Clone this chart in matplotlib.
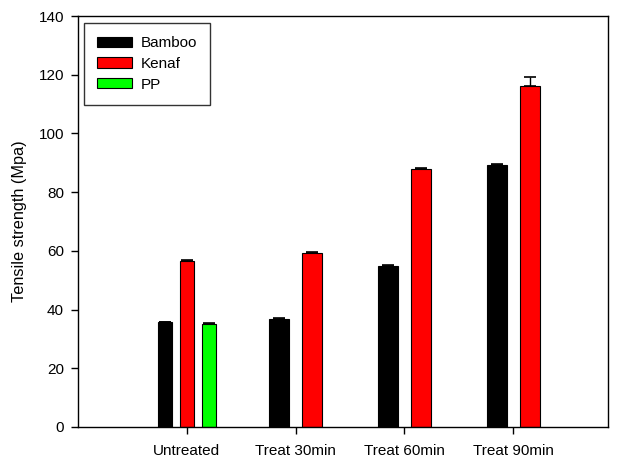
import matplotlib
matplotlib.use("Agg")
import matplotlib.pyplot as plt
import numpy as np

plt.rcParams['font.family'] = ['Liberation Sans', 'DejaVu Sans']

categories = ["Untreated", "Treat 30min", "Treat 60min", "Treat 90min"]
bamboo = [35.6, 36.8, 54.8, 89.3]
bamboo_err = [0.3, 0.3, 0.3, 0.4]
kenaf = [56.6, 59.4, 87.8, 116.2]
kenaf_err = [0.3, 0.3, 0.3, 2.9]
pp = [35.2]
pp_err = [0.3]
yticks = [0, 20, 40, 60, 80, 100, 120, 140]

fig = plt.figure(figsize=(6.17, 4.58), dpi=100)
ax = fig.add_axes([78/617, 1-427/458, (608-78)/617, (427-16)/458])

x = np.arange(1, len(categories) + 1)
err_kw = dict(capsize=4, ecolor='black', elinewidth=1, capthick=1.2)

# Untreated group: three bars
w1 = 0.13
ax.bar(x[0] - 0.2, bamboo[0], w1, yerr=[[0], [bamboo_err[0]]], color='black',
       edgecolor='black', linewidth=0.8, error_kw=err_kw, label='Bamboo')
ax.bar(x[0], kenaf[0], w1, yerr=[[0], [kenaf_err[0]]], color='#ff0000',
       edgecolor='black', linewidth=0.8, error_kw=err_kw, label='Kenaf')
ax.bar(x[0] + 0.2, pp[0], w1, yerr=[[0], [pp_err[0]]], color='#00ff00',
       edgecolor='black', linewidth=0.8, error_kw=err_kw, label='PP')

# Treated groups: two bars
w2 = 0.185
n = len(categories) - 1
ax.bar(x[1:] - 0.15, bamboo[1:], w2, yerr=[[0]*n, bamboo_err[1:]], color='black',
       edgecolor='black', linewidth=0.8, error_kw=err_kw)
ax.bar(x[1:] + 0.15, kenaf[1:], w2, yerr=[[0]*n, kenaf_err[1:]], color='#ff0000',
       edgecolor='black', linewidth=0.8, error_kw=err_kw)

ax.set_xlim(0, 4.87)
ax.set_ylim(0, 140)
ax.set_yticks(yticks)
ax.set_xticks(x)
ax.set_xticklabels(categories)
ax.tick_params(axis='both', direction='out', length=5, width=1, labelsize=11, pad=5)
ax.tick_params(axis='x', pad=7)
for s in ax.spines.values():
    s.set_linewidth(1)
ax.set_ylabel("Tensile strength (Mpa)", fontsize=11.7, labelpad=8)

leg = ax.legend(loc='upper left', bbox_to_anchor=(84/617, 1-23/458),
                bbox_transform=fig.transFigure, frameon=True, fancybox=False,
                edgecolor='black', fontsize=11, handlelength=2.3, handleheight=0.65,
                handletextpad=0.55, labelspacing=0.45, borderpad=0.85, borderaxespad=0)
leg.get_frame().set_linewidth(1)

fig.savefig("out.png", dpi=100)
